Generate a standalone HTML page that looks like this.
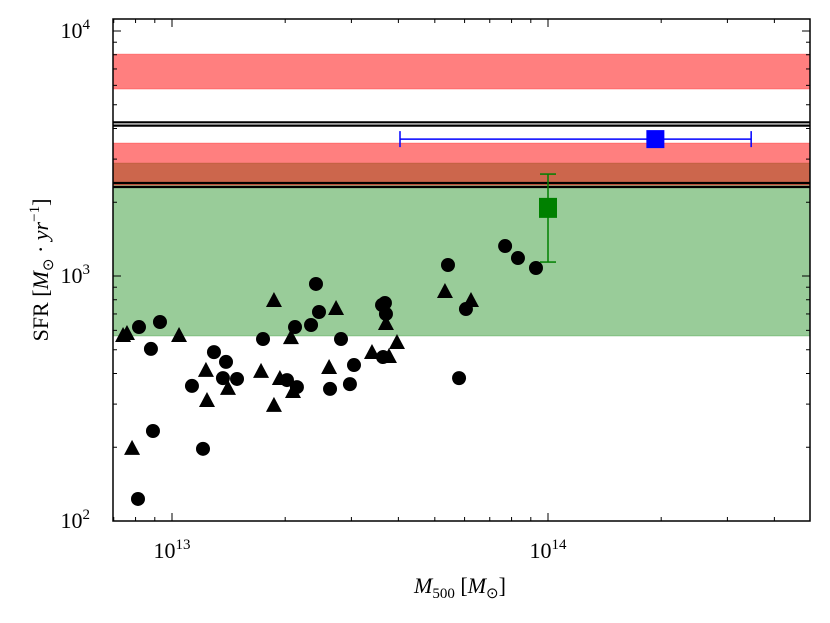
<!DOCTYPE html>
<html><head><meta charset="utf-8"><style>
body{margin:0;background:#fff;}
svg{display:block;font-family:"Liberation Serif",serif;}
</style></head><body>
<svg id="chart" width="830" height="623" viewBox="0 0 830 623" xmlns="http://www.w3.org/2000/svg"></svg>
<script>
// data (x in units of 1e13 Msun, y SFR)
const circleX=[0.817,0.929,0.879,1.130,1.293,1.392,1.366,1.489,1.746,2.124,2.343,2.460,2.415,2.815,3.048,2.973,2.632,2.022,2.149,3.619,3.684,3.707,3.640,6.05,5.80,5.42,9.29,8.32,7.69,0.890,1.209,0.812];
const circleY=[619,649,504,356,489,446,383,380,553,619,631,713,928,553,433,362,346,376,352,761,776,700,467,733,383,1109,1078,1184,1325,233,197,123];
const triX=[0.741,0.759,1.044,0.783,1.231,1.239,1.409,1.867,1.725,1.936,2.072,1.867,2.098,2.731,2.617,3.403,3.707,3.776,3.966,5.32,6.24];
const triY=[569,580,569,197,410,309,346,791,406,380,558,295,336,733,421,485,637,467,533,860,791];
const redBands=[[5795,8050],[2350,3490]];
const greenBand=[569,2890];
const blackLines=[4240,4110,2397,2308];
const bluePoint={x:19.3,y:3620,xlo:4.04,xhi:34.7};
const greenPoint={x:10,y:1897,ylo:1140,yhi:2606};
const xTickLabels=["13","14"];
const yTickLabels=["2","3","4"];

const L=113,R=810,T=19,B=521;
const X0=172,XD=376,Y0=521,YD=245;
function xs(v){return X0+XD*Math.log10(v);}      // v in 1e13
function ys(v){return Y0-YD*(Math.log10(v)-2);}
const svg=document.getElementById('chart');
const NS='http://www.w3.org/2000/svg';
function mk(tag,attrs,parent){const e=document.createElementNS(NS,tag);for(const k in attrs)e.setAttribute(k,attrs[k]);(parent||svg).appendChild(e);return e;}

const clip=mk('clipPath',{id:'pc'});mk('rect',{x:L,y:T,width:R-L,height:B-T},clip);
const g=mk('g',{'clip-path':'url(#pc)'});



let gb=mk('rect',{x:L,y:ys(greenBand[1]),width:R-L,height:ys(greenBand[0])-ys(greenBand[1]),fill:'#008000','fill-opacity':0.4,stroke:'#008000','stroke-opacity':0.25},g);


redBands.forEach((b,i)=>{
  const r=mk('rect',{x:L,y:ys(b[1]),width:R-L,height:ys(b[0])-ys(b[1]),fill:'#ff0000','fill-opacity':0.5,stroke:'#ff0000','stroke-opacity':0.25},g);
  
  
});
blackLines.forEach((v,i)=>{
  const l=mk('line',{x1:L,x2:R,y1:ys(v),y2:ys(v),stroke:'#000','stroke-width':2.2},g);
  
  
});
circleX.forEach((x,i)=>{
  const c=mk('circle',{cx:xs(x),cy:ys(circleY[i]),r:7,fill:'#000'},g);
  
  
});
triX.forEach((x,i)=>{
  const cx=xs(x),cy=ys(triY[i]);
  const p=mk('polygon',{points:`${cx},${cy-9} ${cx-8},${cy+6} ${cx+8},${cy+6}`,fill:'#000'},g);
  
  
});
// blue
{const y=ys(bluePoint.y),x1=xs(bluePoint.xlo),x2=xs(bluePoint.xhi),cx=xs(bluePoint.x);
const e=mk('g',{},g);


mk('line',{x1:x1,x2:x2,y1:y,y2:y,stroke:'#0000ff','stroke-width':1.5},e);
mk('line',{x1:x1,x2:x1,y1:y-8,y2:y+8,stroke:'#0000ff','stroke-width':1.5},e);
mk('line',{x1:x2,x2:x2,y1:y-8,y2:y+8,stroke:'#0000ff','stroke-width':1.5},e);
mk('rect',{x:cx-9,y:y-9,width:18,height:18,fill:'#0000ff'},e);}
// green
{const x=xs(greenPoint.x),y=ys(greenPoint.y),y1=ys(greenPoint.yhi),y2=ys(greenPoint.ylo);
const e=mk('g',{},g);


mk('line',{x1:x,x2:x,y1:y1,y2:y2,stroke:'#008000','stroke-width':1.5},e);
mk('line',{x1:x-8,x2:x+8,y1:y1,y2:y1,stroke:'#008000','stroke-width':1.5},e);
mk('line',{x1:x-8,x2:x+8,y1:y2,y2:y2,stroke:'#008000','stroke-width':1.5},e);
mk('rect',{x:x-9,y:y-10,width:18,height:20,fill:'#008000'},e);}

// ticks
const tk=mk('g',{stroke:'#000','stroke-width':1});


for(let d=-1;d<=1;d++)for(let m=1;m<=9;m++){
  const v=m*Math.pow(10,d),x=xs(v);if(x<L||x>R)continue;
  const len=m===1?8:4;
  mk('line',{x1:x,x2:x,y1:B,y2:B-len},tk);mk('line',{x1:x,x2:x,y1:T,y2:T+len},tk);
}
for(let d=2;d<=4;d++)for(let m=1;m<=9;m++){
  const v=m*Math.pow(10,d),y=ys(v);if(y<T||y>B+0.5)continue;
  const len=m===1?8:4;
  mk('line',{x1:L,x2:L+len,y1:y,y2:y},tk);mk('line',{x1:R,x2:R-len,y1:y,y2:y},tk);
}
const fr=mk('rect',{x:L,y:T,width:R-L,height:B-T,fill:'none',stroke:'#000','stroke-width':1.5});



xTickLabels.forEach((t,i)=>{
  const x=xs(Math.pow(10,i));
  const e=mk('text',{x:x,y:558,'text-anchor':'middle','font-size':22});
  e.innerHTML=`10<tspan dy="-9" font-size="15">${t}</tspan>`;
  
  
});
yTickLabels.forEach((t,i)=>{
  const y=ys(Math.pow(10,+t));
  const e=mk('text',{x:90,y:y+7,'text-anchor':'end','font-size':22});
  e.innerHTML=`10<tspan dy="-9" font-size="15">${t}</tspan>`;
  
  
});
const xl=mk('text',{x:460,y:593,'text-anchor':'middle','font-size':22});
xl.innerHTML='<tspan font-style="italic">M</tspan><tspan dy="5" font-size="15">500</tspan><tspan dy="-5"> [</tspan><tspan font-style="italic">M</tspan><tspan dy="5" font-size="15">⊙</tspan><tspan dy="-5">]</tspan>';


const yl=mk('text',{x:0,y:0,'text-anchor':'middle','font-size':22,transform:'translate(48,270) rotate(-90)'});
yl.innerHTML='SFR [<tspan font-style="italic">M</tspan><tspan dy="5" font-size="15">⊙</tspan><tspan dy="-5"> · </tspan><tspan font-style="italic">yr</tspan><tspan dy="-9" font-size="15">−1</tspan><tspan dy="9">]</tspan>';


</script>
</body></html>
